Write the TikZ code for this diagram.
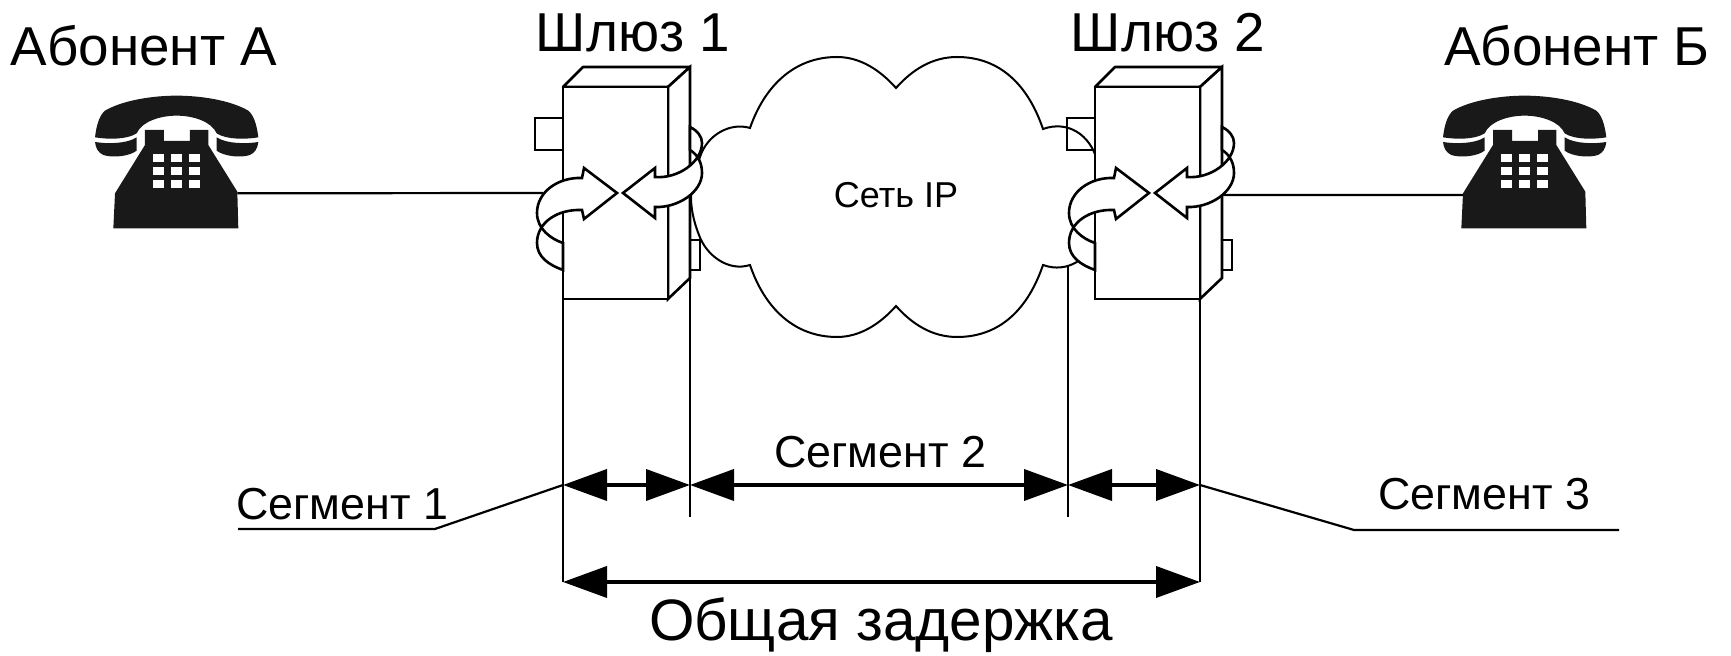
\documentclass[tikz,border=0pt]{standalone}
\usepackage{fontspec}
\setmainfont{Liberation Sans}
\usetikzlibrary{arrows.meta}
\tikzset{
  myline/.style={
    draw=black,
    line width=1.3pt,
  },
  mythinline/.style={
    draw=black,
    line width=0.8pt,
  },
  myarrow/.style={
    draw=black,
    line width=1.9pt,
    {Triangle[length=22pt,width=15.5pt]}-{Triangle[length=22pt,width=15.5pt]},
  },
  myribbon/.style={
    draw=black,
    fill=white,
    line width=1.3pt,
    line join=miter,
  },
  mycloud/.style={
    draw=black,
    fill=white,
    line width=1pt,
  },
  biglabel/.style={
    anchor=base,
    inner sep=0pt,
    font=\fontsize{27.4pt}{30pt}\selectfont,
  },
  seglabel/.style={
    anchor=base,
    inner sep=0pt,
    font=\fontsize{22.4pt}{26pt}\selectfont,
  },
  phone/.pic={
    \begin{scope}[scale=0.3333]
      \fill[black!90] (45,172) .. controls (50,130) and (60,105) .. (75,92) .. controls (130,60) and (220,47) .. (290,47) .. controls (360,47) and (450,60) .. (505,92) .. controls (520,105) and (530,130) .. (535,172) .. controls (500,178) and (440,180) .. (410,160) .. controls (395,125) and (340,107) .. (290,107) .. controls (240,107) and (185,125) .. (170,160) .. controls (140,180) and (80,178) .. (45,172) -- cycle;
      \fill[black!90] (45,186) .. controls (80,192) and (140,192) .. (170,172) -- (170,212) .. controls (150,228) and (100,235) .. (70,225) .. controls (55,218) and (47,205) .. (45,186) -- cycle;
      \fill[black!90] (535,186) .. controls (500,192) and (440,192) .. (410,172) -- (410,212) .. controls (430,228) and (480,235) .. (510,225) .. controls (525,218) and (533,205) .. (535,186) -- cycle;
      \fill[black!90] (100,445) -- (105,340) -- (195,195) -- (195,150) -- (252,150) -- (252,183) -- (330,183) -- (330,150) -- (385,150) -- (385,195) -- (472,335) -- (475,445) -- cycle;
      \foreach \keyx in {218,272,327} {
        \foreach \keyy in {222,262,300} {
          \fill[white] (\keyx,\keyy) rectangle +(33,23);
        }
      }
      \coordinate (-right) at (472,340);
      \coordinate (-left) at (105,345);
    \end{scope}
  },
  gateway/.pic={
    \draw[myline, line join=round, fill=white] (0,0) -- (20,-20) -- (127,-20) -- (105,0) -- cycle;
    \draw[myline, fill=white] (127,-20) -- (127,191) -- (105,212) -- (105,0) -- cycle;
    \draw[myline, fill=white] (0,0) rectangle (105,212);
    \draw[line width=1pt] (0,31) -- (-28,31) -- (-28,63) -- (0,63);
    \draw[line width=1pt] (127,153) -- (137,153) -- (137,183) -- (127,183);
    \coordinate (-frontleft) at (0,212);
    \coordinate (-frontright) at (105,212);
    \coordinate (-side) at (127,191);
    \coordinate (-wirein) at (-20,106);
    \coordinate (-wireout) at (127,108);
  },
  gwarrows/.pic={
    \draw[myribbon] (0,156) .. controls (-12,152) and (-26,142) .. (-26,126) .. controls (-26,105) and (-5,90) .. (19,91) -- (21,81) -- (54,106) -- (21,132) -- (19,123) .. controls (-5,122) and (-26,135) .. (-26,156) .. controls (-26,170) and (-14,178) .. (0,183) -- cycle;
    \draw[myribbon] (127,40) .. controls (135,44) and (139,50) .. (139,56) .. controls (139,75) and (115,92) .. (92,90) -- (92,81) -- (60,106) -- (92,131) -- (92,120) .. controls (115,121) and (139,105) .. (139,86) .. controls (139,76) and (135,68) .. (127,63) -- cycle;
  },
}

\begin{document}
\begin{tikzpicture}[x=0.5pt, y=-0.5pt]
  \useasboundingbox (0,0) rectangle (1731,656);

  \pic (phoneA) at (80,80) {phone};
  \pic (phoneB) at (1428,80) {phone};

  \pic (gwA) at (563,87) {gateway};

  \draw[mycloud] (750,128) .. controls (765,85) and (795,57) .. (837,57) .. controls (860,57) and (880,70) .. (896,88) .. controls (912,70) and (932,57) .. (957,57) .. controls (1000,57) and (1028,85) .. (1043,129) .. controls (1068,120) and (1090,135) .. (1097,160) -- (1097,235) .. controls (1090,258) and (1068,274) .. (1043,265) .. controls (1028,309) and (1000,337) .. (957,337) .. controls (932,337) and (912,324) .. (896,306) .. controls (880,324) and (860,337) .. (837,337) .. controls (795,337) and (765,309) .. (750,265) .. controls (728,272) and (706,255) .. (699,235) .. controls (693,220) and (691,207) .. (691,197) .. controls (691,182) and (695,170) .. (700,157) .. controls (707,135) and (730,122) .. (750,128) -- cycle;

  \pic (gwB) at (1095,87) {gateway};

  \node[biglabel] (subscriberA) at (144,66) {Абонент А};
  \node[biglabel] (subscriberB) at (1577,66) {Абонент Б};
  \node[biglabel] (gatewayA)    at (633,52) {Шлюз 1};
  \node[biglabel] (gatewayB)    at (1168,52) {Шлюз 2};
  \node[anchor=base, inner sep=0pt, font=\fontsize{18pt}{22pt}\selectfont] (network) at (896,208) {Сеть IP};

  \draw[myline, line width=1.1pt] (phoneA-right) -- (gwA-wirein);
  \draw[myline, line width=1.1pt] (gwB-wireout) -- (phoneB-left);

  \pic at (563,87) {gwarrows};
  \pic at (1095,87) {gwarrows};

  \coordinate (segA)   at (563,485);
  \coordinate (segB)   at (690,485);
  \coordinate (segC)   at (1068,485);
  \coordinate (segD)   at (1200,485);
  \coordinate (totalA) at (563,582);
  \coordinate (totalB) at (1200,582);
  \coordinate (tickB)  at (690,517);
  \coordinate (tickC)  at (1068,517);
  \coordinate (cloudfoot) at (1068,266);

  \draw[mythinline] (gwA-frontleft) -- (totalA);
  \draw[mythinline] (gwB-frontright) -- (totalB);
  \draw[mythinline] (gwA-side) -- (tickB);
  \draw[mythinline] (cloudfoot) -- (tickC);

  \draw[myarrow] (segA) -- (segB);
  \draw[myarrow] (segB) -- (segC);
  \draw[myarrow] (segC) -- (segD);
  \draw[myarrow] (totalA) -- (totalB);

  \coordinate (leaderAknee) at (435,529);
  \coordinate (leaderAend)  at (238,529);
  \coordinate (leaderBknee) at (1354,530);
  \coordinate (leaderBend)  at (1619,530);
  \draw[myline, line width=1.1pt] (leaderAend) -- (leaderAknee) -- (segA);
  \draw[myline, line width=1.1pt] (segD) -- (leaderBknee) -- (leaderBend);

  \node[seglabel] (segmentA) at (342,520) {Сегмент 1};
  \node[seglabel] (segmentB) at (880,468) {Сегмент 2};
  \node[seglabel] (segmentC) at (1484,510) {Сегмент 3};
  \node[biglabel, font=\fontsize{29.2pt}{32pt}\selectfont] (total) at (881,641) {Общая задержка};
\end{tikzpicture}
\end{document}
